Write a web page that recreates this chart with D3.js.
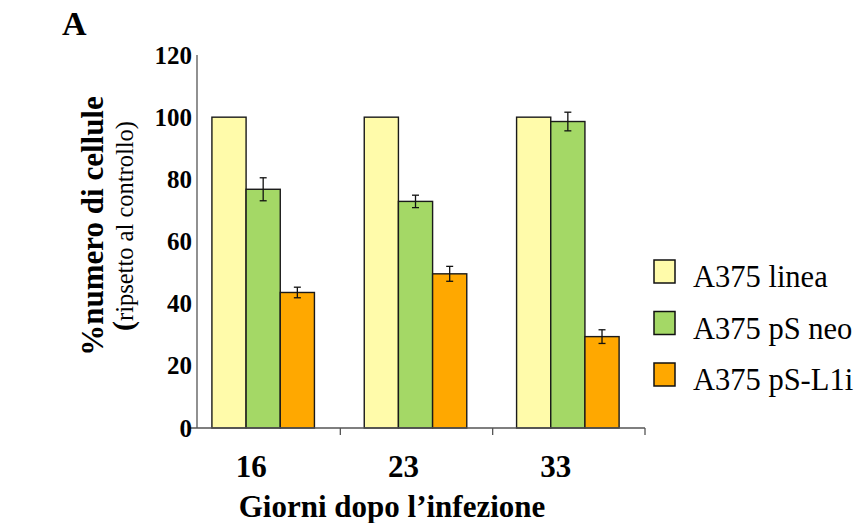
<!DOCTYPE html>
<html>
<head>
<meta charset="utf-8">
<script src="https://cdn.jsdelivr.net/npm/d3@7"></script>
<style>
  html, body { margin: 0; padding: 0; background: #fff; }
</style>
</head>
<body>
<svg id="chart" width="863" height="523"></svg>
<script>
"use strict";

// ── Data ──────────────────────────────────────────────────────────────────────
const days       = ["16", "23", "33"];
const seriesName = ["A375 linea", "A375 pS neo", "A375 pS-L1i"];
const seriesCol  = ["#FFFBAA", "#A4D866", "#FFA800"];
const linea      = [100, 100, 100];
const psNeo      = [76.8, 72.9, 98.6];
const psNeoErr   = [3.7, 2.0, 3.0];
const psL1i      = [43.6, 49.6, 29.4];
const psL1iErr   = [1.7, 2.4, 2.2];
const yTicks     = [0, 20, 40, 60, 80, 100, 120];

const values = [linea, psNeo, psL1i];
const errors = [null, psNeoErr, psL1iErr];

const FONT = "'Liberation Serif', 'Times New Roman', serif";

// ── Scales ────────────────────────────────────────────────────────────────────
const svg = d3.select("#chart").style("font-family", FONT);

const x0 = d3.scaleBand().domain(days).range([188, 645]);
const bw = x0.bandwidth();
const x1 = d3.scaleBand().domain(seriesName).range([bw * 0.157, bw * 0.83]);
const y  = d3.scaleLinear().domain([0, 120]).range([428, 55]);

// ── Bars ──────────────────────────────────────────────────────────────────────
const rows = [];
days.forEach((d, i) => {
  seriesName.forEach((s, j) => {
    rows.push({ day: d, s, j, v: values[j][i], e: errors[j] ? errors[j][i] : null });
  });
});

svg.append("g").selectAll("rect")
  .data(rows)
  .join("rect")
  .attr("x", (d) => x0(d.day) + x1(d.s))
  .attr("y", (d) => y(d.v))
  .attr("width", x1.bandwidth())
  .attr("height", (d) => y(0) - y(d.v))
  .attr("fill", (d) => seriesCol[d.j])
  .attr("stroke", "#1a1a1a")
  .attr("stroke-width", 1.4);

// Error bars
const eb = svg.append("g").attr("stroke", "#111").attr("stroke-width", 1.3);
rows.filter((d) => d.e !== null).forEach((d) => {
  const cx = x0(d.day) + x1(d.s) + x1.bandwidth() / 2;
  const yT = y(d.v + d.e), yB = y(d.v - d.e);
  eb.append("line").attr("x1", cx).attr("x2", cx).attr("y1", yT).attr("y2", yB);
  eb.append("line").attr("x1", cx - 3.5).attr("x2", cx + 3.5).attr("y1", yT).attr("y2", yT);
  eb.append("line").attr("x1", cx - 3.5).attr("x2", cx + 3.5).attr("y1", yB).attr("y2", yB);
});

// ── Axes ──────────────────────────────────────────────────────────────────────
const axisCol = "#555";
svg.append("line")
  .attr("x1", 197).attr("x2", 197)
  .attr("y1", y(120)).attr("y2", y(0))
  .attr("stroke", axisCol).attr("stroke-width", 1.3);

svg.append("line")
  .attr("x1", 188).attr("x2", 645)
  .attr("y1", y(0)).attr("y2", y(0))
  .attr("stroke", axisCol).attr("stroke-width", 1.3);
days.forEach((d) => {
  const xe = x0(d) + bw;
  svg.append("line")
    .attr("x1", xe).attr("x2", xe)
    .attr("y1", y(0)).attr("y2", y(0) + 7)
    .attr("stroke", axisCol).attr("stroke-width", 1.3);
});

// y tick labels
svg.append("g").selectAll("text")
  .data(yTicks)
  .join("text")
  .attr("x", 192)
  .attr("y", (d) => y(d))
  .attr("dy", "0.34em")
  .attr("text-anchor", "end")
  .attr("font-size", 25)
  .attr("font-weight", "bold")
  .text((d) => d);

// x tick labels
svg.append("g").selectAll("text")
  .data(days)
  .join("text")
  .attr("x", (d) => x0(d) + bw / 2 - 13)
  .attr("y", 477)
  .attr("text-anchor", "middle")
  .attr("font-size", 31)
  .attr("font-weight", "bold")
  .text((d) => d);

// x axis title
svg.append("text")
  .attr("x", 392).attr("y", 517)
  .attr("text-anchor", "middle")
  .attr("font-size", 31)
  .attr("font-weight", "bold")
  .text("Giorni dopo l\u2019infezione");

// y axis title (two lines, rotated)
const yt = svg.append("g").attr("transform", "translate(0,226) rotate(-90)");
yt.append("text")
  .attr("x", 0).attr("y", 103)
  .attr("text-anchor", "middle")
  .attr("font-size", 31)
  .attr("font-weight", "bold")
  .text("%numero di cellule");
const yt2 = yt.append("text")
  .attr("x", 0).attr("y", 133)
  .attr("text-anchor", "middle");
yt2.append("tspan").attr("font-size", 30).attr("font-weight", "bold").text("(");
yt2.append("tspan").attr("font-size", 24.5).text("ripsetto al controllo)");

// panel letter
svg.append("text")
  .attr("x", 62).attr("y", 35)
  .attr("font-size", 34)
  .attr("font-weight", "bold")
  .text("A");

// ── Legend ────────────────────────────────────────────────────────────────────
const leg = svg.append("g").attr("transform", "translate(654,260)");
seriesName.forEach((s, j) => {
  const g = leg.append("g").attr("transform", `translate(0,${j * 51.5})`);
  g.append("rect")
    .attr("width", 21).attr("height", 23)
    .attr("fill", seriesCol[j])
    .attr("stroke", "#111").attr("stroke-width", 1.5);
  g.append("text")
    .attr("x", 39).attr("y", 27)
    .attr("font-size", 30.5)
    .text(s);
});
</script>
</body>
</html>
